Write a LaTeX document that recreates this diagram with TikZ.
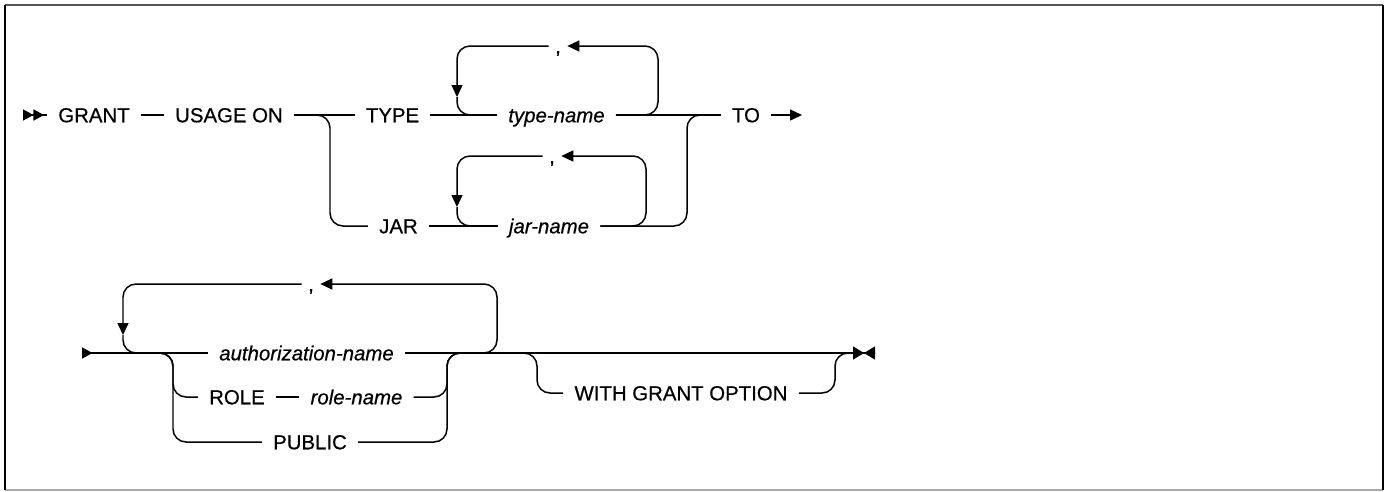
\documentclass[tikz,border=0pt]{standalone}
\usepackage{fontspec}
\setmainfont{Liberation Sans}
\newfontfamily\railfont{Liberation Sans}[FakeBold=0.5]
\usetikzlibrary{arrows.meta}
\definecolor{FrameTop}{HTML}{555555}
\definecolor{FrameBottom}{HTML}{AAAAAA}
\tikzset{
    % Text styles
    keyword/.style={
        inner xsep=0.22cm,
        inner ysep=1pt,
        text height=8.3pt,
        text depth=0pt,
        font=\railfont\fontsize{11.6}{13}\selectfont
    },
    varname/.style={
        keyword,
        font=\railfont\fontsize{11.6}{13}\selectfont\itshape
    },
    repsep/.style={
        keyword,
        inner xsep=3.5pt
    },
    % Rail styles
    railtip/.tip={Triangle[length=0.24cm, width=0.22cm]},
    railstart/.tip={Triangle[reversed, length=0.21cm, width=0.22cm]},
    railend/.tip={Triangle[length=0.22cm, width=0.26cm]},
    railendb/.tip={Triangle[reversed, length=0.22cm, width=0.26cm]},
    rail/.style={
        line width=0.85pt,
        draw=black,
        rounded corners=0.26cm
    }
}
\begin{document}
\begin{tikzpicture}[x=0.02cm, y=-0.02cm]
    \useasboundingbox (0,0) rectangle (1387,491);

    % frame
    \coordinate (ftl) at (5,5);
    \coordinate (fbr) at (1383,490);
    \draw[FrameTop, line width=1.2pt] (ftl) -- (ftl -| fbr);
    \draw[FrameBottom, line width=0.6pt] (ftl |- fbr) -- (fbr);
    \draw[black, line width=1.2pt] (ftl) -- (ftl |- fbr);
    \draw[black, line width=1.2pt] (fbr) -- (fbr |- ftl);

    % first line
    \coordinate (s1) at (23,115);
    \node[keyword] (grant) at (94,115) {GRANT};
    \node[keyword] (usage) at (229,115) {USAGE ON};
    \node[keyword] (type) at (392.5,115) {TYPE};
    \node[keyword] (jar) at (398.5,226) {JAR};
    \node[varname] (tn) at (556.5,115) {type-name};
    \node[varname] (jn) at (549,226) {jar-name};
    \node[repsep] (cm1) at (558,46) {,};
    \node[repsep] (cm2) at (552,156) {,};
    \node[keyword] (to) at (746,115) {TO};
    \coordinate (e1) at (802,115);
    \coordinate (bj1) at (330,226);
    \coordinate (lp1) at (658,46);
    \coordinate (dn1) at (457,97);
    \coordinate (lp2) at (646,156);
    \coordinate (dn2) at (457,207);
    \coordinate (mj1) at (687,115);

    \draw[rail, {railstart[]railstart[]}-] (s1) -- (grant.west);
    \draw[rail] (grant.east) -- (usage.west);
    \draw[rail] (usage.east) -- (type.west);
    \draw[rail] (usage.east) -| (bj1) -- (jar.west);
    \draw[rail] (type.east) -- (tn.west);
    \draw[rail] (jar.east) -- (jn.west);
    \draw[rail] (tn.east) -- (to.west);
    \draw[rail] (jn.east) -| (mj1) -- (to.west);
    \draw[rail, -{railtip}] (to.east) -- (e1);

    % repeat loops
    \draw[rail, -{railtip}] (tn.east) -| (lp1) -- (cm1.east);
    \draw[rail, -{railtip}] (cm1.west) -| (dn1);
    \draw[rail] (dn1) |- (tn.west);
    \draw[rail, -{railtip}] (jn.east) -| (lp2) -- (cm2.east);
    \draw[rail, -{railtip}] (cm2.west) -| (dn2);
    \draw[rail] (dn2) |- (jn.west);

    % second line
    \coordinate (s2) at (82,353);
    \node[varname] (an) at (306.5,353) {authorization-name};
    \node[keyword] (role) at (237,397) {ROLE};
    \node[varname] (rn) at (356.5,397) {role-name};
    \node[keyword] (pub) at (310,442) {PUBLIC};
    \node[repsep] (cm3) at (311,284) {,};
    \node[keyword] (wgo) at (681,393) {WITH GRANT OPTION};
    \coordinate (ch1) at (173,397);
    \coordinate (ch2) at (173,442);
    \coordinate (mg1) at (447,353);
    \coordinate (lp3) at (497,284);
    \coordinate (dn3) at (123,335);
    \coordinate (oj1) at (537,393);
    \coordinate (oj2) at (835,353);
    \coordinate (e2) at (875,353);

    \draw[rail, {railstart[]}-] (s2) -- (an.west);
    \draw[rail] (s2) -| (ch1) -- (role.west);
    \draw[rail] (s2) -| (ch2) -- (pub.west);
    \draw[rail] (role.east) -- (rn.west);
    \draw[rail] (rn.east) -| (mg1) -- (oj2);
    \draw[rail] (pub.east) -| (mg1) -- (oj2);
    \draw[rail, -{railend[]railendb[]}] (an.east) -- (e2);
    \draw[rail, -{railtip}] (an.east) -| (lp3) -- (cm3.east);
    \draw[rail, -{railtip}] (cm3.west) -| (dn3);
    \draw[rail] (dn3) |- (an.west);
    \draw[rail] (mg1) -| (oj1) -- (wgo.west);
    \draw[rail] (wgo.east) -| (oj2) -- (e2);
\end{tikzpicture}
\end{document}
